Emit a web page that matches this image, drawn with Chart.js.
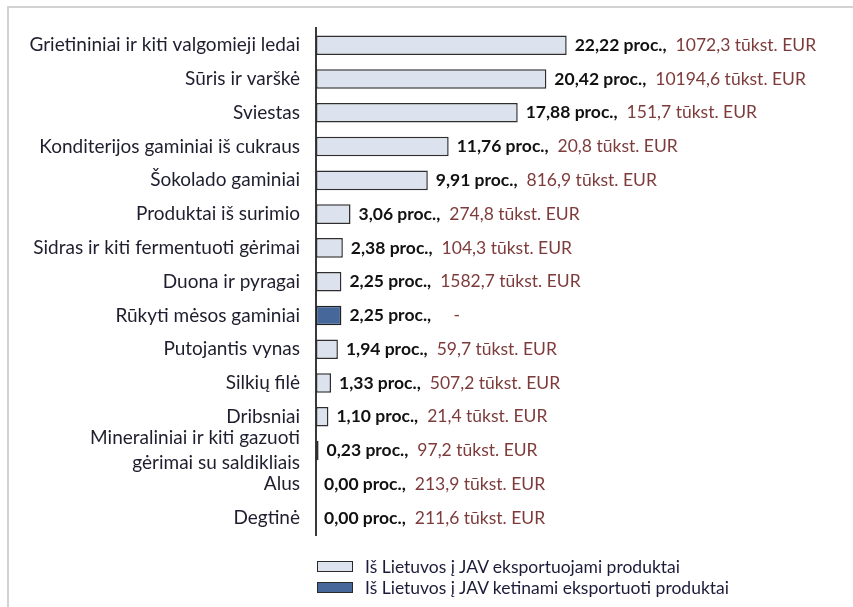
<!DOCTYPE html>
<html>
<head>
<meta charset="utf-8">
<script src="https://cdn.jsdelivr.net/npm/chart.js@4.4.1/dist/chart.umd.min.js"></script>
<style>
  html, body { margin: 0; padding: 0; background: #fff; }
  #wrap { position: relative; width: 853px; height: 607px; overflow: hidden; }
  #frame { position: absolute; left: 7px; top: 6px; width: 900px; height: 700px;
           border-left: 2px solid #d2d2d2; border-top: 2px solid #d2d2d2; box-sizing: border-box; }
  canvas { position: absolute; left: 0; top: 0; }
  #legend { position: absolute; left: 317px; top: 556px; font-family: Lato, "Open Sans", sans-serif;
            font-size: 17.5px; color: #1c1c3a; }
  .li { display: flex; align-items: center; height: 21px; }
  .box { width: 34px; height: 9px; border: 1.5px solid #2a2a2a; margin-right: 12px; }
</style>
</head>
<body>
<div id="wrap">
  <div id="frame"></div>
  <canvas id="c" width="853" height="607"></canvas>
  <div id="legend"></div>
</div>
<script>
const categories = [
  "Grietininiai ir kiti valgomieji ledai",
  "Sūris ir varškė",
  "Sviestas",
  "Konditerijos gaminiai iš cukraus",
  "Šokolado gaminiai",
  "Produktai iš surimio",
  "Sidras ir kiti fermentuoti gėrimai",
  "Duona ir pyragai",
  "Rūkyti mėsos gaminiai",
  "Putojantis vynas",
  "Silkių filė",
  "Dribsniai",
  ["Mineraliniai ir kiti gazuoti", "gėrimai su saldikliais"],
  "Alus",
  "Degtinė"
];
const shares = [22.22, 20.42, 17.88, 11.76, 9.91, 3.06, 2.38, 2.25, 2.25, 1.94, 1.33, 1.10, 0.23, 0.00, 0.00];
const amounts = ["1072,3", "10194,6", "151,7", "20,8", "816,9", "274,8", "104,3", "1582,7", "-", "59,7", "507,2", "21,4", "97,2", "213,9", "211,6"];
const planned = [false, false, false, false, false, false, false, false, true, false, false, false, false, false, false];
const seriesNames = ["Iš Lietuvos į JAV eksportuojami produktai", "Iš Lietuvos į JAV ketinami eksportuoti produktai"];

const FONT = 'Lato, "Open Sans", sans-serif';
const exportedVals = shares.map((v, i) => planned[i] ? null : v);
const plannedVals = shares.map((v, i) => planned[i] ? v : null);

const valueLabels = {
  id: 'valueLabels',
  afterDatasetsDraw(chart) {
    const ctx = chart.ctx;
    ctx.save();
    ctx.textBaseline = 'middle';
    ctx.textAlign = 'left';
    shares.forEach((v, i) => {
      const dsIndex = planned[i] ? 1 : 0;
      const el = chart.getDatasetMeta(dsIndex).data[i];
      if (!el) return;
      let x = el.x + 8;
      const y = el.y;
      const pct = v.toFixed(2).replace('.', ',') + ' proc.,';
      ctx.font = 'bold 17.5px ' + FONT;
      ctx.fillStyle = '#111';
      ctx.fillText(pct, x, y);
      x += ctx.measureText(pct).width + 9;
      const amt = amounts[i] === '-' ? '   -' : amounts[i] + ' tūkst. EUR';
      ctx.font = '17.5px ' + FONT;
      ctx.fillStyle = '#7e3b3b';
      ctx.fillText(amt, x, y);
    });
    ctx.restore();
  }
};

const chart = new Chart(document.getElementById('c'), {
  type: 'bar',
  data: {
    labels: categories,
    datasets: [
      { label: seriesNames[0], data: exportedVals, backgroundColor: '#dce3ee', borderColor: '#2e2e2e',
        borderWidth: 1.5, borderSkipped: false, grouped: false, barPercentage: 0.58, categoryPercentage: 1 },
      { label: seriesNames[1], data: plannedVals, backgroundColor: '#46679a', borderColor: '#222',
        borderWidth: 1.5, borderSkipped: false, grouped: false, barPercentage: 0.58, categoryPercentage: 1 }
    ]
  },
  options: {
    indexAxis: 'y',
    responsive: false,
    animation: false,
    layout: { padding: { top: 26, bottom: 72, left: 0, right: 0 } },
    plugins: { legend: { display: false }, tooltip: { enabled: false } },
    scales: {
      x: { display: false, min: 0, max: 47.6 },
      y: {
        afterFit(scale) { scale.width = 316; },
        grid: { display: false, drawTicks: false },
        border: { display: true, color: '#3a3a3a', width: 2 },
        ticks: { autoSkip: false, padding: 16, color: '#1e1e2e', font: { family: FONT, size: 19, lineHeight: 1.3 } }
      }
    }
  },
  plugins: [valueLabels]
});

const legend = document.getElementById('legend');
chart.data.datasets.forEach(ds => {
  const row = document.createElement('div');
  row.className = 'li';
  const box = document.createElement('span');
  box.className = 'box';
  box.style.background = ds.backgroundColor;
  const t = document.createElement('span');
  t.textContent = ds.label;
  row.appendChild(box);
  row.appendChild(t);
  legend.appendChild(row);
});
</script>
</body>
</html>
